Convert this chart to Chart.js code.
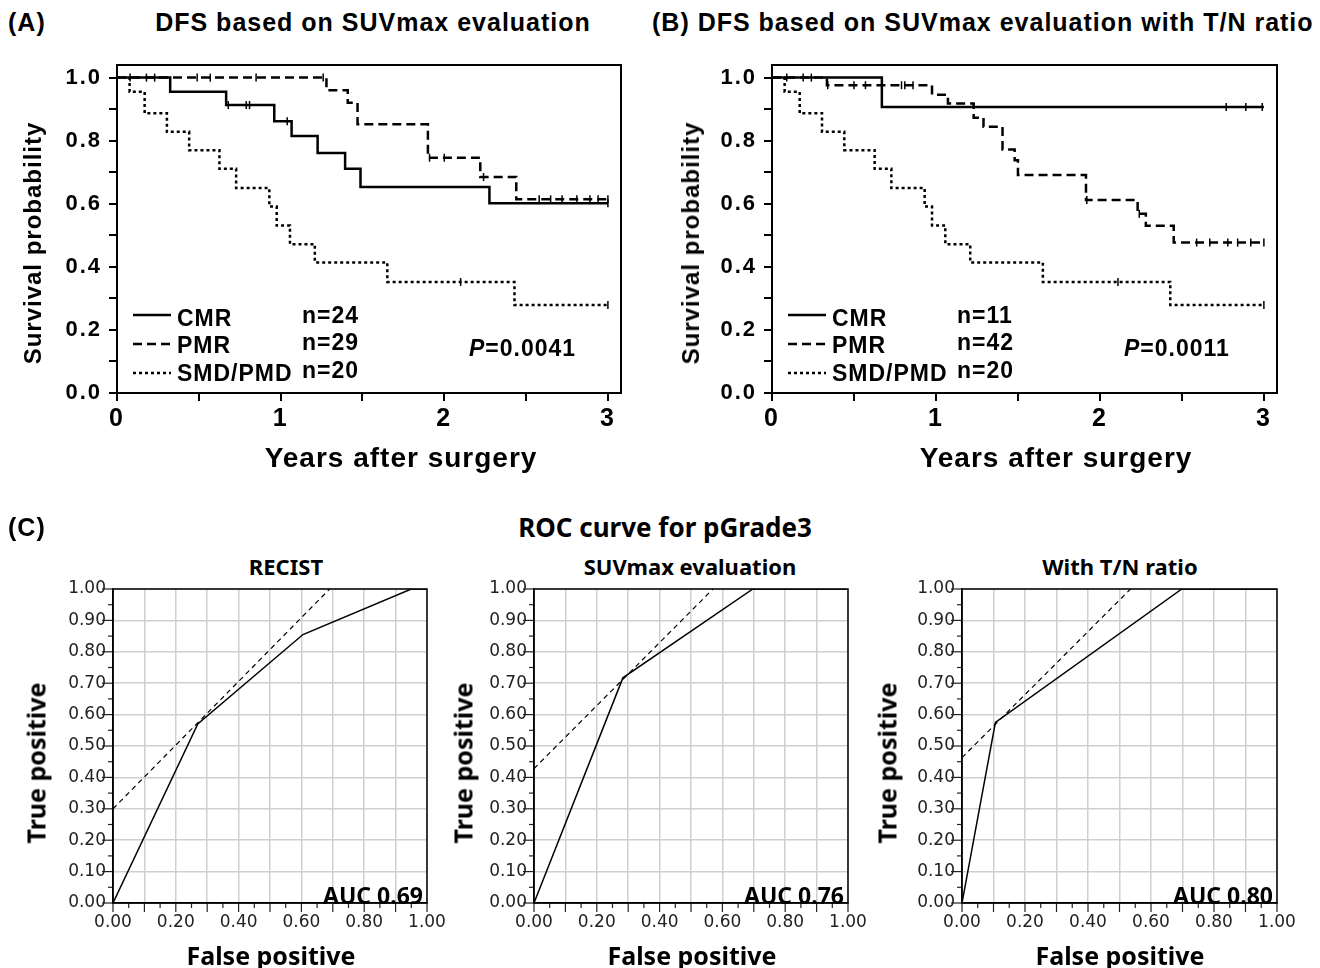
<!DOCTYPE html>
<html lang="en">
<head>
<meta charset="UTF-8">
<title>DFS and ROC curves</title>
<script src="https://cdn.jsdelivr.net/npm/chart.js"></script>
<style>
    body { margin: 0; background: #fff; }
    #page { position: relative; width: 1320px; height: 968px; overflow: hidden; }
    .cv { position: absolute; }
    .lbl {
        position: absolute;
        font-family: 'Liberation Sans', Arial, sans-serif;
        font-weight: bold;
        color: #000;
        white-space: nowrap;
        line-height: 1;
        letter-spacing: 1px;
        transform: translate(-50%, -50%);
    }
    .left { transform: translate(0, -50%); }
    .vt { transform: translate(-50%, -50%) rotate(-90deg); }
    .noto { font-family: 'Noto Sans', sans-serif; letter-spacing: 0; }
</style>
</head>
<body>
<div id="page">
    <!-- top row titles -->
    <div class="lbl left" style="left:8px;top:22px;font-size:25px">(A)</div>
    <div class="lbl" style="left:373px;top:22px;font-size:25px">DFS based on SUVmax evaluation</div>
    <div class="lbl left" style="left:652px;top:22px;font-size:25px">(B) DFS based on SUVmax evaluation with T/N ratio</div>

    <canvas id="kmA" class="cv" style="left:0;top:0" width="640" height="480"></canvas>
    <canvas id="kmB" class="cv" style="left:660px;top:0" width="660" height="480"></canvas>

    <div class="lbl vt" style="left:33px;top:243px;font-size:24px">Survival probability</div>
    <div class="lbl vt" style="left:691px;top:243px;font-size:24px">Survival probability</div>
    <div class="lbl" style="left:401px;top:458px;font-size:28px">Years after surgery</div>
    <div class="lbl" style="left:1056px;top:458px;font-size:28px">Years after surgery</div>

    <!-- bottom row -->
    <div class="lbl left" style="left:8px;top:527px;font-size:25px">(C)</div>
    <div class="lbl noto" style="left:665px;top:527px;font-size:26px">ROC curve for pGrade3</div>
    <div class="lbl noto" style="left:286px;top:566px;font-size:22px">RECIST</div>
    <div class="lbl noto" style="left:690px;top:566px;font-size:22px">SUVmax evaluation</div>
    <div class="lbl noto" style="left:1120px;top:566px;font-size:22px">With T/N ratio</div>

    <canvas id="roc1" class="cv" style="left:0;top:540px" width="460" height="428"></canvas>
    <canvas id="roc2" class="cv" style="left:440px;top:540px" width="440" height="428"></canvas>
    <canvas id="roc3" class="cv" style="left:860px;top:540px" width="460" height="428"></canvas>

    <div class="lbl noto vt" style="left:36px;top:763px;font-size:25px">True positive</div>
    <div class="lbl noto vt" style="left:463px;top:763px;font-size:25px">True positive</div>
    <div class="lbl noto vt" style="left:887px;top:763px;font-size:25px">True positive</div>
    <div class="lbl noto" style="left:271px;top:955px;font-size:25px">False positive</div>
    <div class="lbl noto" style="left:692px;top:955px;font-size:25px">False positive</div>
    <div class="lbl noto" style="left:1120px;top:955px;font-size:25px">False positive</div>
</div>

<script>
    // ---- Kaplan-Meier data (years, survival probability) ----
    const groups = ['CMR', 'PMR', 'SMD/PMD'];

    // (A) SUVmax evaluation
    const aCmrT = [0, 0.325, 0.667, 0.961, 1.067, 1.226, 1.394, 1.488, 2.276, 3.0];
    const aCmrS = [1, 0.955, 0.913, 0.862, 0.815, 0.761, 0.711, 0.653, 0.602, 0.602];
    const aCmrC = [0.08, 0.18, 0.23, 0.68, 0.79, 0.81, 1.04, 3.0];
    const aPmrT = [0, 1.28, 1.41, 1.47, 1.90, 2.22, 2.44, 3.0];
    const aPmrS = [1, 0.96, 0.92, 0.852, 0.746, 0.685, 0.614, 0.614];
    const aPmrC = [0.49, 0.57, 0.85, 1.26, 1.91, 2.0, 2.24, 2.58, 2.65, 2.72, 2.81, 2.89, 2.94, 3.0];
    const aSmdT = [0, 0.077, 0.169, 0.305, 0.441, 0.626, 0.728, 0.931, 0.976, 1.057, 1.209, 1.652, 2.429, 3.0];
    const aSmdS = [1, 0.955, 0.887, 0.828, 0.77, 0.711, 0.65, 0.591, 0.531, 0.472, 0.414, 0.352, 0.279, 0.279];
    const aSmdC = [2.10, 3.0];
    const nA = [24, 29, 20];
    const pA = '0.0041';

    // (B) SUVmax evaluation with T/N ratio
    const bCmrT = [0, 0.67, 3.0];
    const bCmrS = [1, 0.907, 0.907];
    const bCmrC = [0.09, 0.19, 0.24, 2.77, 2.89, 2.99];
    const bPmrT = [0, 0.335, 0.976, 1.073, 1.23, 1.29, 1.406, 1.48, 1.50, 1.915, 2.23, 2.28, 2.45, 3.0];
    const bPmrS = [1, 0.976, 0.946, 0.918, 0.873, 0.844, 0.772, 0.738, 0.691, 0.612, 0.568, 0.53, 0.477, 0.477];
    const bPmrC = [0.34, 0.50, 0.57, 0.67, 0.79, 0.81, 0.86, 1.92, 2.24, 2.59, 2.67, 2.78, 2.84, 2.92, 3.0];
    const bSmdT = [0, 0.077, 0.169, 0.305, 0.441, 0.626, 0.728, 0.931, 0.976, 1.057, 1.209, 1.652, 2.429, 3.0];
    const bSmdS = [1, 0.955, 0.887, 0.828, 0.77, 0.711, 0.65, 0.591, 0.531, 0.472, 0.414, 0.352, 0.279, 0.279];
    const bSmdC = [2.11, 3.0];
    const nB = [11, 42, 20];
    const pB = '0.0011';

    const kmXTicks = [0, 0.5, 1, 1.5, 2, 2.5, 3];
    const kmYTicks = [0, 0.1, 0.2, 0.3, 0.4, 0.5, 0.6, 0.7, 0.8, 0.9, 1.0];

    // ---- ROC data (false positive, true positive) ----
    const roc1X = [0, 0.27, 0.605, 0.95, 1.0];
    const roc1Y = [0, 0.57, 0.855, 1.0, 1.0];
    const tan1X = [0, 0.69];
    const tan1Y = [0.30, 1.0];
    const roc2X = [0, 0.283, 0.697, 1.0];
    const roc2Y = [0, 0.717, 1.0, 1.0];
    const tan2X = [0, 0.57];
    const tan2Y = [0.428, 1.0];
    const roc3X = [0, 0.106, 0.698, 1.0];
    const roc3Y = [0, 0.575, 1.0, 1.0];
    const tan3X = [0, 0.535];
    const tan3Y = [0.463, 1.0];
    const aucVals = ['0.69', '0.76', '0.80'];
    const rocTicks = [0, 0.05, 0.1, 0.15, 0.2, 0.25, 0.3, 0.35, 0.4, 0.45, 0.5,
                      0.55, 0.6, 0.65, 0.7, 0.75, 0.8, 0.85, 0.9, 0.95, 1.0];

    const KM_FONT = "'Liberation Sans', Arial, sans-serif";
    const groupDash = [[], [9, 5], [3, 3]];

    function pts(xs, ys) {
        return xs.map((x, i) => ({ x: x, y: ys[i] }));
    }

    // survival value of a step curve at time t
    function survAt(ts, ss, t) {
        let v = ss[0];
        ts.forEach((tt, i) => { if (tt <= t) v = ss[i]; });
        return v;
    }

    // wider lettering for the KM tick labels
    const kmSpacing = {
        id: 'kmSpacing',
        beforeDraw(chart) { chart.ctx.letterSpacing = '2px'; }
    };

    // KM legend, n, P value and frame
    const kmText = {
        id: 'kmText',
        afterDraw(chart, args, opts) {
            const { ctx, chartArea: a } = chart;
            ctx.save();
            ctx.strokeStyle = '#000';
            ctx.lineWidth = 2;
            ctx.strokeRect(a.left, a.top, a.right - a.left, a.bottom - a.top);
            const rowLine = [-78, -49, -20];
            const rowText = [-73, -46, -18];
            const rowN = [-76, -49, -21];
            ctx.fillStyle = '#000';
            ctx.textBaseline = 'middle';
            ctx.textAlign = 'left';
            ctx.letterSpacing = '1px';
            groups.forEach((g, i) => {
                ctx.setLineDash(groupDash[i]);
                ctx.lineWidth = 2.5;
                ctx.beginPath();
                ctx.moveTo(a.left + 16, a.bottom + rowLine[i]);
                ctx.lineTo(a.left + 54, a.bottom + rowLine[i]);
                ctx.stroke();
                ctx.setLineDash([]);
                ctx.font = 'bold 23px ' + KM_FONT;
                ctx.fillText(g, a.left + 60, a.bottom + rowText[i]);
                ctx.fillText('n=' + opts.n[i], a.left + 185, a.bottom + rowN[i]);
            });
            ctx.font = 'italic bold 23px ' + KM_FONT;
            ctx.fillText('P', a.left + 352, a.bottom - 43);
            const w = ctx.measureText('P').width;
            ctx.font = 'bold 23px ' + KM_FONT;
            ctx.fillText('=' + opts.p, a.left + 352 + w, a.bottom - 43);
            ctx.restore();
        }
    };

    function kmChart(id, W, H, area, curves, n, p) {
        const datasets = [];
        curves.forEach((c, i) => {
            datasets.push({
                data: pts(c.t, c.s),
                stepped: true,
                borderColor: '#000',
                borderWidth: 2.5,
                borderDash: groupDash[i],
                pointRadius: 0,
                fill: false
            });
            datasets.push({
                data: c.c.map(t => ({ x: t, y: survAt(c.t, c.s, t) })),
                showLine: false,
                pointStyle: 'line',
                rotation: 90,
                pointRadius: 4,
                borderColor: '#000',
                borderWidth: 1.5
            });
        });
        new Chart(document.getElementById(id), {
            type: 'line',
            data: { datasets: datasets },
            plugins: [kmSpacing, kmText],
            options: {
                responsive: false,
                animation: false,
                layout: { padding: { left: 0, right: W - area.right, top: area.top, bottom: 0 } },
                plugins: {
                    legend: { display: false },
                    tooltip: { enabled: false },
                    kmText: { n: n, p: p }
                },
                scales: {
                    x: {
                        type: 'linear',
                        min: 0,
                        max: 3.08,
                        afterBuildTicks: s => { s.ticks = kmXTicks.map(v => ({ value: v })); },
                        afterFit: s => { s.height = H - area.bottom; },
                        grid: { drawOnChartArea: false, drawTicks: true, tickLength: 8, color: '#000', lineWidth: 2 },
                        border: { display: true, color: '#000', width: 2 },
                        ticks: {
                            autoSkip: false,
                            maxRotation: 0,
                            padding: 3,
                            color: '#000',
                            font: { family: KM_FONT, weight: 'bold', size: 25 },
                            callback: v => (Number.isInteger(v) ? String(v) : '')
                        }
                    },
                    y: {
                        type: 'linear',
                        min: 0,
                        max: 1.04,
                        afterBuildTicks: s => { s.ticks = kmYTicks.map(v => ({ value: v })); },
                        afterFit: s => { s.width = area.left; },
                        grid: { drawOnChartArea: false, drawTicks: true, tickLength: 8, color: '#000', lineWidth: 2 },
                        border: { display: true, color: '#000', width: 2 },
                        ticks: {
                            autoSkip: false,
                            padding: 7,
                            color: '#000',
                            font: { family: KM_FONT, weight: 'bold', size: 22 },
                            callback: v => (Math.round(v * 10) % 2 === 0 ? v.toFixed(1) : '')
                        }
                    }
                }
            }
        });
    }

    kmChart('kmA', 640, 480, { left: 117, right: 621, top: 65, bottom: 393 }, [
        { t: aCmrT, s: aCmrS, c: aCmrC },
        { t: aPmrT, s: aPmrS, c: aPmrC },
        { t: aSmdT, s: aSmdS, c: aSmdC }
    ], nA, pA);

    kmChart('kmB', 660, 480, { left: 112, right: 617, top: 65, bottom: 393 }, [
        { t: bCmrT, s: bCmrS, c: bCmrC },
        { t: bPmrT, s: bPmrS, c: bPmrC },
        { t: bSmdT, s: bSmdS, c: bSmdC }
    ], nB, pB);

    // ROC ticks, frame and AUC label
    const rocDeco = {
        id: 'rocDeco',
        afterDraw(chart, args, opts) {
            const { ctx, chartArea: a, scales } = chart;
            ctx.save();
            ctx.strokeStyle = '#222';
            ctx.lineWidth = 1.2;
            rocTicks.forEach(v => {
                const major = Math.round(v * 100) % 10 === 0;
                const py = scales.y.getPixelForValue(v);
                ctx.beginPath();
                ctx.moveTo(a.left - (major ? 11 : 5), py);
                ctx.lineTo(a.left, py);
                ctx.stroke();
                const px = scales.x.getPixelForValue(v);
                ctx.beginPath();
                ctx.moveTo(px, a.bottom);
                ctx.lineTo(px, a.bottom + (major ? 9 : 5));
                ctx.stroke();
            });
            ctx.strokeStyle = '#000';
            ctx.lineWidth = 1.5;
            ctx.strokeRect(a.left, a.top, a.right - a.left, a.bottom - a.top);
            ctx.fillStyle = '#000';
            ctx.font = "bold 23px 'Noto Sans', sans-serif";
            ctx.textAlign = 'right';
            ctx.textBaseline = 'alphabetic';
            ctx.fillText('AUC ' + opts.auc, a.right - 4, a.bottom + 1);
            ctx.restore();
        }
    };

    function rocChart(id, W, H, area, cx, cy, tx, ty, auc) {
        const tickFont = { family: "'DejaVu Sans', Verdana, sans-serif", size: 17 };
        const gridColor = c => (Math.round(c.tick.value * 100) % 10 === 0 ? '#cfcfcf' : 'rgba(0,0,0,0)');
        new Chart(document.getElementById(id), {
            type: 'line',
            data: {
                datasets: [
                    { data: pts(cx, cy), borderColor: '#000', borderWidth: 1.5, pointRadius: 0, fill: false },
                    { data: pts(tx, ty), borderColor: '#000', borderWidth: 1.2, borderDash: [5, 4], pointRadius: 0, fill: false }
                ]
            },
            plugins: [rocDeco],
            options: {
                responsive: false,
                animation: false,
                layout: { padding: { left: 0, right: W - area.right, top: area.top, bottom: 0 } },
                plugins: {
                    legend: { display: false },
                    tooltip: { enabled: false },
                    rocDeco: { auc: auc }
                },
                scales: {
                    x: {
                        type: 'linear',
                        min: 0,
                        max: 1,
                        afterBuildTicks: s => { s.ticks = rocTicks.map(v => ({ value: v })); },
                        afterFit: s => { s.height = H - area.bottom; },
                        grid: { drawTicks: false, color: gridColor, lineWidth: 1.5 },
                        border: { display: true, color: '#000', width: 1.5 },
                        ticks: {
                            autoSkip: false,
                            maxRotation: 0,
                            padding: 9,
                            color: '#222',
                            font: tickFont,
                            callback: v => (Math.round(v * 100) % 20 === 0 ? v.toFixed(2) : '')
                        }
                    },
                    y: {
                        type: 'linear',
                        min: 0,
                        max: 1,
                        afterBuildTicks: s => { s.ticks = rocTicks.map(v => ({ value: v })); },
                        afterFit: s => { s.width = area.left; },
                        grid: { drawTicks: false, color: gridColor, lineWidth: 1.5 },
                        border: { display: true, color: '#000', width: 1.5 },
                        ticks: {
                            autoSkip: false,
                            padding: 7,
                            color: '#222',
                            font: tickFont,
                            callback: v => (Math.round(v * 100) % 10 === 0 ? v.toFixed(2) : '')
                        }
                    }
                }
            }
        });
    }

    rocChart('roc1', 460, 428, { left: 113, right: 427, top: 49, bottom: 363 }, roc1X, roc1Y, tan1X, tan1Y, aucVals[0]);
    rocChart('roc2', 440, 428, { left: 94, right: 408, top: 49, bottom: 363 }, roc2X, roc2Y, tan2X, tan2Y, aucVals[1]);
    rocChart('roc3', 460, 428, { left: 102, right: 417, top: 49, bottom: 363 }, roc3X, roc3Y, tan3X, tan3Y, aucVals[2]);
</script>
</body>
</html>
